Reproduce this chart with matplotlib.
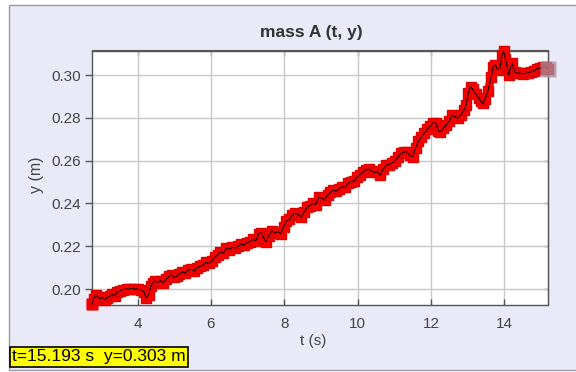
import matplotlib
matplotlib.use("Agg")
import matplotlib.pyplot as plt
from matplotlib.patches import Rectangle

plt.rcParams['font.family'] = ['Liberation Sans', 'DejaVu Sans']

# time (s) and vertical position (m) of mass A
t = [2.755, 2.80, 2.86, 2.92, 2.98, 3.04, 3.10, 3.17, 3.24, 3.30, 3.37, 3.44,
     3.52, 3.60, 3.70, 3.80, 3.90, 4.00, 4.10, 4.18, 4.24, 4.30, 4.36, 4.42,
     4.48, 4.55, 4.62, 4.70, 4.78, 4.86, 4.93, 5.00, 5.07, 5.14, 5.22, 5.30,
     5.38, 5.46, 5.54, 5.62, 5.70, 5.78, 5.86, 5.94, 6.02, 6.10, 6.18, 6.26,
     6.34, 6.42, 6.50, 6.58, 6.66, 6.74, 6.82, 6.90, 6.98, 7.06, 7.14, 7.22,
     7.30, 7.36, 7.42, 7.50, 7.58, 7.66, 7.74, 7.82, 7.90, 7.98, 8.06, 8.14,
     8.22, 8.30, 8.38, 8.46, 8.54, 8.62, 8.70, 8.78, 8.86, 8.94, 9.02, 9.10,
     9.18, 9.26, 9.34, 9.42, 9.50, 9.58, 9.66, 9.74, 9.82, 9.90, 9.98, 10.06,
     10.14, 10.22, 10.30, 10.38, 10.46, 10.54, 10.62, 10.70, 10.78, 10.86,
     10.94, 11.02, 11.10, 11.18, 11.26, 11.34, 11.42, 11.50, 11.58, 11.66,
     11.74, 11.82, 11.90, 11.98, 12.06, 12.14, 12.20, 12.26, 12.34, 12.42,
     12.50, 12.58, 12.66, 12.74, 12.82, 12.90, 12.96, 13.02, 13.08, 13.14,
     13.22, 13.30, 13.36, 13.42, 13.48, 13.56, 13.64, 13.70, 13.76, 13.82,
     13.88, 13.94, 13.98, 14.03, 14.08, 14.12, 14.17, 14.22, 14.28, 14.34,
     14.42, 14.50, 14.58, 14.66, 14.74, 14.82, 14.90, 14.98, 15.06, 15.13,
     15.193]
y = [0.1930, 0.1955, 0.1972, 0.1962, 0.1955, 0.1962, 0.1950, 0.1960, 0.1966,
     0.1975, 0.1970, 0.1985, 0.1992, 0.1998, 0.2000, 0.2002, 0.2001, 0.2000,
     0.1996, 0.1985, 0.1960, 0.1972, 0.2015, 0.2030, 0.2038, 0.2030, 0.2040,
     0.2030, 0.2048, 0.2060, 0.2066, 0.2055, 0.2060, 0.2072, 0.2080, 0.2075,
     0.2088, 0.2092, 0.2085, 0.2100, 0.2106, 0.2112, 0.2125, 0.2120, 0.2130,
     0.2148, 0.2160, 0.2172, 0.2168, 0.2190, 0.2185, 0.2195, 0.2192, 0.2200,
     0.2210, 0.2205, 0.2216, 0.2222, 0.2232, 0.2225, 0.2258, 0.2262, 0.2245,
     0.2222, 0.2250, 0.2272, 0.2262, 0.2268, 0.2258, 0.2290, 0.2318, 0.2326,
     0.2345, 0.2355, 0.2348, 0.2338, 0.2360, 0.2382, 0.2390, 0.2400, 0.2395,
     0.2430, 0.2425, 0.2416, 0.2440, 0.2452, 0.2462, 0.2458, 0.2470, 0.2478,
     0.2475, 0.2495, 0.2502, 0.2505, 0.2522, 0.2535, 0.2545, 0.2556, 0.2560,
     0.2552, 0.2545, 0.2548, 0.2532, 0.2562, 0.2578, 0.2582, 0.2590, 0.2598,
     0.2615, 0.2634, 0.2640, 0.2642, 0.2625, 0.2618, 0.2660, 0.2692, 0.2710,
     0.2728, 0.2748, 0.2760, 0.2778, 0.2775, 0.2740, 0.2735, 0.2752, 0.2768,
     0.2785, 0.2812, 0.2805, 0.2798, 0.2815, 0.2835, 0.2860, 0.2915, 0.2945,
     0.2935, 0.2912, 0.2895, 0.2880, 0.2868, 0.2890, 0.2928, 0.2990, 0.3040,
     0.3048, 0.3025, 0.3030, 0.3095, 0.3112, 0.3075, 0.3040, 0.3000, 0.3035,
     0.3055, 0.3015, 0.3008, 0.3010, 0.3006, 0.3008, 0.3012, 0.3016, 0.3020,
     0.3030, 0.3032, 0.3038, 0.3040, 0.3030]

x_ticks = [4, 6, 8, 10, 12, 14]
y_ticks = [0.20, 0.22, 0.24, 0.26, 0.28, 0.30]
y_tick_labels = ["0.20", "0.22", "0.24", "0.26", "0.28", "0.30"]

W, H = 576, 372
fig = plt.figure(figsize=(W / 100, H / 100), dpi=100, facecolor='white')

# lavender panel behind the plot
fig.patches.append(Rectangle((9 / W, 2 / H), 1.0, (H - 7) / H,
                             transform=fig.transFigure, facecolor='#e9e9f8',
                             edgecolor='#9a9aa8', linewidth=1.0, zorder=-10))

ax = fig.add_axes([92 / W, (H - 304.5) / H, (548 - 92) / W, (304.5 - 50.5) / H])
ax.set_zorder(1)
ax.set_facecolor('white')

# thick red trace with blocky square joints, thin dark core line on top
ax.plot(t, y, color='#ff0000', lw=6.0, marker='s', ms=6.5, mec='#e00000',
        mfc='#ff0000', solid_joinstyle='bevel', clip_on=False, zorder=3)
ax.plot(t, y, color='#1a0000', lw=0.8, clip_on=False, zorder=4)
ax.plot([t[0]], [y[0]], marker='s', ms=8, color='#ee0000', mec='none',
        clip_on=False, zorder=3)
ax.plot([t[-1]], [y[-1]], marker='s', ms=11.5, color=(0.64, 0.56, 0.62, 0.75),
        mec='none', clip_on=False, zorder=5)

ax.set_xlim(t[0], t[-1])
ax.set_ylim(0.1928, 0.3115)
ax.set_xticks(x_ticks)
ax.set_yticks(y_ticks)
ax.set_yticklabels(y_tick_labels)
ax.grid(True, color='#c8c8c8', lw=1.0)
ax.set_axisbelow(True)

for s in ax.spines.values():
    s.set_color('#555555')
    s.set_linewidth(1.0)

ax.tick_params(axis='y', direction='out', length=5, width=1, color='#555555',
               labelsize=11, labelcolor='#444444', pad=3)
ax.tick_params(axis='x', direction='in', length=4, width=1, color='#555555',
               labelsize=11, labelcolor='#444444', pad=9)

sec_y = ax.secondary_yaxis('right')
sec_y.set_yticks(y_ticks)
sec_y.tick_params(direction='in', length=3, width=1, color='#555555', labelright=False)
sec_y.spines['right'].set_color('#555555')
sec_x = ax.secondary_xaxis('top')
sec_x.set_xticks(x_ticks)
sec_x.tick_params(direction='in', length=4, width=1, color='#555555', labeltop=False)
sec_x.spines['top'].set_color('#555555')

fig.text(311 / W, 1 - 32 / H, 'mass A (t, y)', ha='center', va='center',
         fontsize=12.5, fontweight='bold', color='#333333')
fig.text(313 / W, 1 - 341 / H, 't (s)', ha='center', va='center',
         fontsize=11, color='#444444')
fig.text(37 / W, 1 - 175 / H, 'y (m)', ha='center', va='center',
         rotation=90, fontsize=11.5, color='#444444')

fig.text(12 / W, 1 - 357 / H, 't=15.193 s  y=0.303 m', ha='left', va='center',
         fontsize=12.5, color='black',
         bbox=dict(boxstyle='square,pad=0.12', facecolor='#ffff00',
                   edgecolor='black', linewidth=1.2))

fig.savefig('out.png', dpi=100, facecolor='white')
